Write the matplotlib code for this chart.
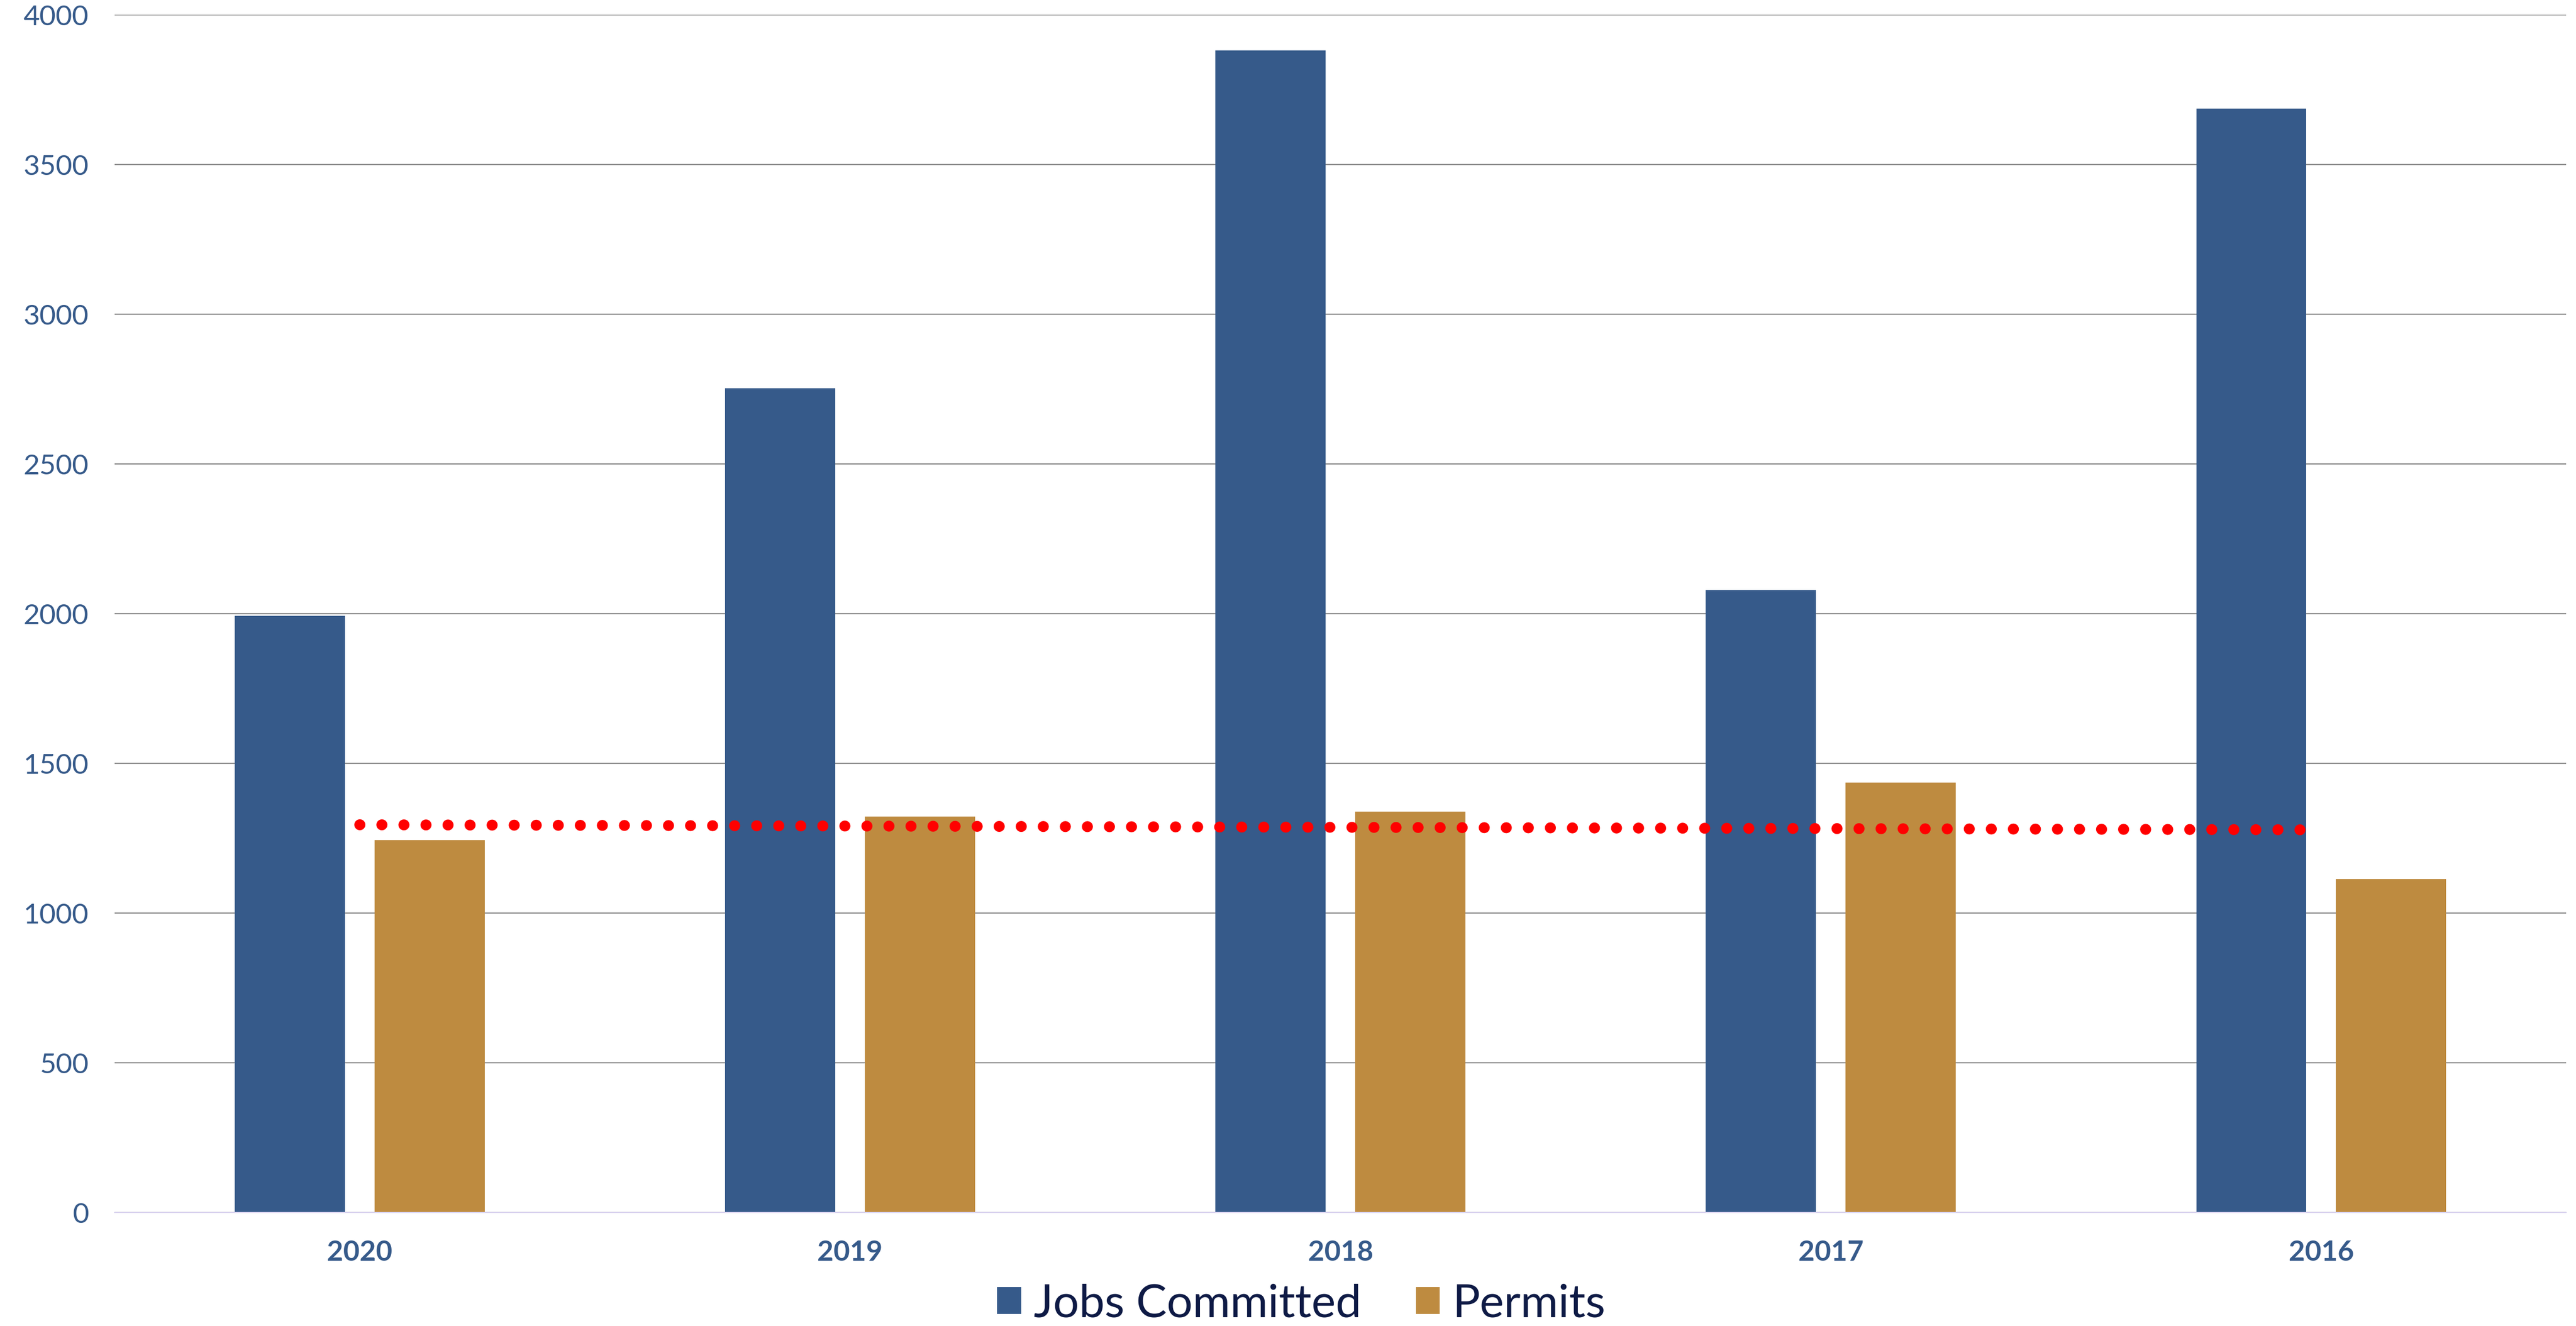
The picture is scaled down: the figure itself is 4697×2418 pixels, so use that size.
import matplotlib.pyplot as plt
import numpy as np

plt.rcParams['font.family'] = ['Lato', 'DejaVu Sans']

# 数据
years = ["2020", "2019", "2018", "2017", "2016"]
jobs_committed = [1993, 2753, 3881, 2079, 3687]
permits = [1244, 1323, 1339, 1436, 1114]
trend_ends = [1295, 1278]  # 趋势线起点/终点

BLUE = "#365A8A"
GOLD = "#BE8B40"
TEXT_DARK = "#0E1A45"

fig = plt.figure(figsize=(46.97, 24.18), dpi=100)
ax = fig.add_axes([0.0445, 0.0856, 0.9517, 0.9032])

x = np.arange(len(years))
offset = 0.1426
width = 0.224

ax.bar(x - offset, jobs_committed, width, color=BLUE, label="Jobs Committed", zorder=2)
ax.bar(x + offset, permits, width, color=GOLD, label="Permits", zorder=2)

# 红色点状趋势线
ax.plot([x[0], x[-1]], trend_ends, color="#FF0000", linewidth=14.4,
        linestyle=(0, (0.01, 2)), dash_capstyle="round", zorder=3)

ax.set_xlim(-0.5, len(years) - 0.5)
ax.set_ylim(0, 4000)
ax.set_yticks(np.arange(0, 4001, 500))
ax.set_xticks(x)
ax.set_xticklabels(years)

ax.yaxis.grid(True, color="#8A8A8A", linewidth=1.6)
ax.set_axisbelow(True)

for side in ["top", "right", "left"]:
    ax.spines[side].set_visible(False)
ax.spines["bottom"].set_color("#DCD6F0")
ax.spines["bottom"].set_linewidth(1.4)
ax.spines["bottom"].set_zorder(4)

ax.tick_params(axis="both", length=0)
ax.tick_params(axis="y", pad=34, labelsize=37, labelcolor=BLUE)
ax.tick_params(axis="x", pad=36, labelsize=37, labelcolor=BLUE)
for lbl in ax.get_xticklabels():
    lbl.set_fontweight("bold")

leg = fig.legend(loc="center", bbox_to_anchor=(0.5052, 0.0165), ncol=2, frameon=False,
                 fontsize=60, handlelength=0.52, handleheight=0.52,
                 handletextpad=0.28, columnspacing=1.2)
for t in leg.get_texts():
    t.set_color(TEXT_DARK)

plt.savefig("out.png", dpi=100)
plt.close()
